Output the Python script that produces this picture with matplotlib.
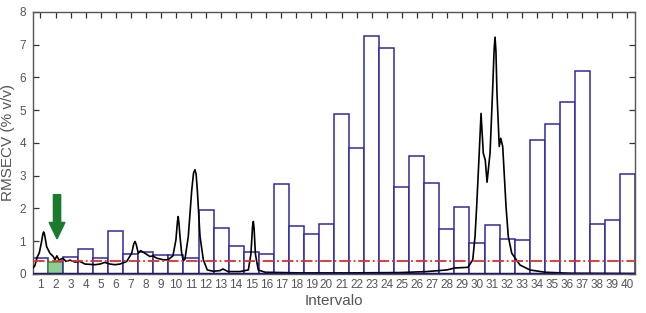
import numpy as np
import matplotlib
matplotlib.use("Agg")
import matplotlib.pyplot as plt
from matplotlib.patches import FancyArrow

plt.rcParams['font.family'] = ['Liberation Sans', 'DejaVu Sans']

# RMSECV per interval (iPLS)
intervals = np.arange(1, 41)
rmsecv = [0.47, 0.37, 0.52, 0.76, 0.49, 1.32, 0.61, 0.67, 0.59, 0.59,
          0.49, 1.94, 1.40, 0.86, 0.66, 0.62, 2.73, 1.47, 1.22, 1.53,
          4.89, 3.83, 7.27, 6.90, 2.66, 3.61, 2.76, 1.36, 2.05, 0.94,
          1.50, 1.06, 1.03, 4.10, 4.58, 5.26, 6.18, 1.53, 1.65, 3.05]
best_interval = 2
global_rmsecv = 0.40

# mean spectrum (scaled), x in interval units
spec_x = [0.50, 0.63, 0.77, 0.92, 1.06, 1.16, 1.21, 1.27, 1.33, 1.41, 1.63, 1.85,
          1.96, 2.09, 2.23, 2.49, 2.69, 2.96, 3.29, 3.62, 3.96, 4.62,
          4.95, 5.28, 5.62, 5.95, 6.28, 6.73, 7.06, 7.20, 7.28, 7.36, 7.50, 7.66,
          7.94, 8.27, 8.47, 8.72, 9.16, 9.47, 9.80, 10.00, 10.10, 10.15, 10.20, 10.27,
          10.38, 10.49, 10.60, 10.82, 11.05, 11.17, 11.26, 11.34, 11.42, 11.60, 11.82, 12.08,
          12.48, 12.93, 13.12, 13.46, 14.25, 14.81, 14.98, 15.09, 15.14, 15.19, 15.28, 15.47,
          15.92, 18.24, 21.56, 24.89, 26.66, 27.99, 28.54, 29.40, 29.72, 29.87,
          29.98, 30.13, 30.27, 30.42, 30.55, 30.67, 30.87, 31.03, 31.14, 31.20, 31.26, 31.33,
          31.48, 31.58, 31.71, 31.93, 32.08, 32.31, 32.86, 33.52, 34.52, 36.18,
          40.50]
spec_y = [0.18, 0.25, 0.50, 0.64, 0.95, 1.22, 1.28, 1.20, 1.05, 0.83, 0.63, 0.53,
          0.43, 0.55, 0.42, 0.48, 0.38, 0.42, 0.36, 0.38, 0.30, 0.28,
          0.30, 0.35, 0.30, 0.28, 0.30, 0.38, 0.63, 0.92, 0.99, 0.90, 0.63, 0.71,
          0.63, 0.53, 0.55, 0.48, 0.43, 0.43, 0.55, 1.04, 1.60, 1.75, 1.55, 1.14,
          0.63, 0.40, 0.45, 1.14, 2.56, 3.08, 3.18, 3.05, 2.56, 1.14, 0.43, 0.12,
          0.08, 0.10, 0.15, 0.07, 0.07, 0.12, 0.60, 1.45, 1.60, 1.40, 0.60, 0.12,
          0.05, 0.03, 0.03, 0.04, 0.07, 0.12, 0.18, 0.20, 0.43, 1.14,
          2.06, 3.50, 4.90, 3.68, 3.48, 2.80, 3.70, 5.50, 6.85, 7.23, 6.80, 5.50,
          3.89, 4.14, 3.89, 2.06, 1.14, 0.63, 0.27, 0.12, 0.05, 0.02,
          0.01]

fig = plt.figure(figsize=(6.46, 3.13), dpi=100)
ax = fig.add_axes([0.051, 0.125, 0.932, 0.837])

navy = '#3229a0'
colors = ['#8fce8f' if i == best_interval else 'white' for i in intervals]
edges = ['#3c8a3c' if i == best_interval else navy for i in intervals]
ax.bar(intervals, rmsecv, width=1.0, color=colors, edgecolor=edges, linewidth=1.1, zorder=2)

ax.plot(spec_x, spec_y, color='black', linewidth=1.2, zorder=3)
ax.axhline(global_rmsecv, color='#d93030', linestyle='-.', linewidth=1.3, zorder=4)
ax.axhline(0, color='#1c1a6e', linewidth=2.5, zorder=5)

ax.add_patch(FancyArrow(2.1, 2.42, 0, -1.35, width=0.48, head_width=1.05,
                        head_length=0.5, length_includes_head=True,
                        color='#1a7a2e', zorder=6))

ax.set_xlim(0.5, 40.5)
ax.set_ylim(0, 8)
ax.set_xticks(intervals)
ax.set_yticks(range(0, 9))
ax.tick_params(direction='in', top=True, right=True, length=4, width=0.9,
               labelsize=8.5, labelcolor='#555555', color='#333333')
ax.tick_params(axis='y', labelright=False, pad=5)
for s in ax.spines.values():
    s.set_color('#555555')
    s.set_linewidth(1.0)

ax.set_xlabel('Intervalo', fontsize=11, color='#555555', labelpad=2)
ax.set_ylabel('RMSECV (% v/v)', fontsize=11, color='#555555', labelpad=3)

fig.savefig('out.png', dpi=100)
